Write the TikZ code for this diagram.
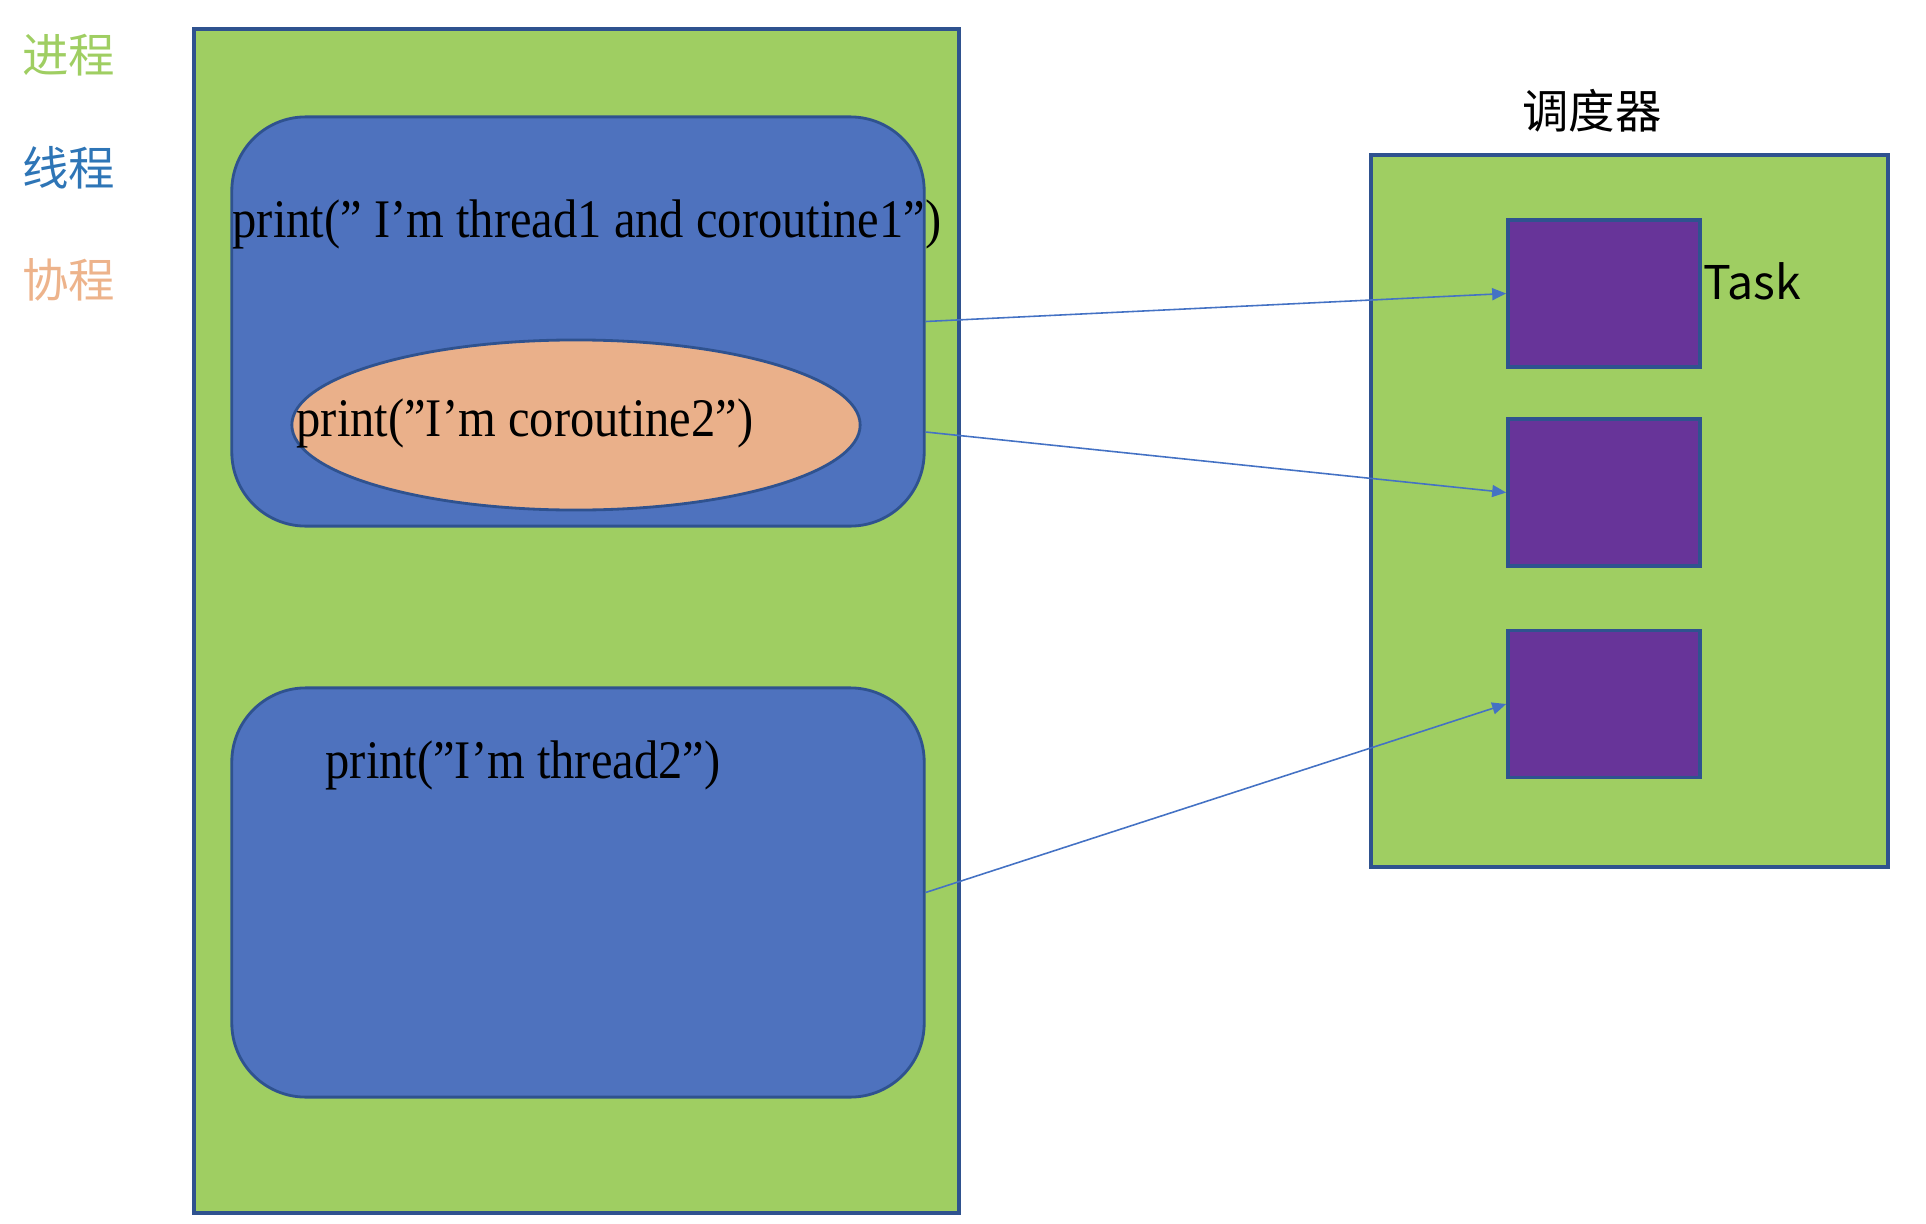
\documentclass[tikz,border=0pt]{standalone}
\usepackage{fontspec}
\setmainfont{Liberation Serif}
\newfontfamily\cjk{Noto Sans CJK SC}
\usepackage{tikz}
\usetikzlibrary{
  positioning, arrows.meta, shapes.geometric
}
\usepackage{xcolor}
\definecolor{procgreen}{HTML}{9FCE62}
\definecolor{threadblue}{HTML}{4E72BE}
\definecolor{coroorange}{HTML}{EAB08A}
\definecolor{taskpurple}{HTML}{673499}
\definecolor{edgeblue}{HTML}{2F528F}
\definecolor{linkblue}{HTML}{4472C4}
\definecolor{legblue}{HTML}{2E75B6}
\definecolor{legorange}{HTML}{EDB38B}
\tikzset{
  procbox/.style={draw=edgeblue, line width=1.1pt, fill=procgreen},
  threadbox/.style={draw=edgeblue, line width=0.8pt, fill=threadblue, rounded corners=0.74cm,
    minimum width=6.92cm, minimum height=4.09cm},
  corobox/.style={ellipse, draw=edgeblue, line width=0.8pt, fill=coroorange,
    minimum width=5.68cm, minimum height=1.70cm},
  taskbox/.style={draw=edgeblue, line width=1pt, fill=taskpurple,
    minimum width=1.92cm, minimum height=1.47cm},
  codetext/.style={font=\fontsize{13.8}{16}\selectfont, inner sep=0pt, yscale=1.12, transform shape},
  cjktext/.style={font=\cjk\fontsize{13.2}{16}\selectfont, inner sep=0pt},
  link/.style={draw=linkblue, line width=0.45pt, -{Triangle[length=0.14cm, width=0.12cm]}}
}

\begin{document}
\begin{tikzpicture}[x=0.01cm, y=-0.01cm]
\useasboundingbox (0,0) rectangle (1926,1224);
\node[cjktext, text=procgreen] (leg1) at (69,55) {进程};
\node[cjktext, text=legblue] (leg2) at (69,168) {线程};
\node[cjktext, text=legorange] (leg3) at (69,280) {协程};
\node[procbox, minimum width=7.65cm, minimum height=11.83cm] (proc) at (576.5,621) {};
\node[threadbox] (thread1) at (578,321.5) {};
\node[codetext] (text1) at (587,224) {print(” I’m thread1 and coroutine1”)};
\node[corobox] (coro) at (576,425) {};
\node[codetext] (text2) at (525,423) {print(”I’m coroutine2”)};
\node[threadbox] (thread2) at (578,892.5) {};
\node[codetext] (text3) at (523,765) {print(”I’m thread2”)};
\node[cjktext] (sched) at (1592,111) {调度器};
\node[procbox, minimum width=5.17cm, minimum height=7.12cm] (schedbox) at (1629.5,511) {};
\node[taskbox] (task1) at (1604,293.5) {};
\node[taskbox] (task2) at (1604,492.5) {};
\node[taskbox] (task3) at (1604,704) {};
\node[cjktext] (tasklabel) at (1752,281) {Task};
\draw[link] (thread1.east) -- (task1.west);
\draw[link] ([yshift=-0.07cm]thread1.east |- coro.center) -- (task2.west);
\draw[link] (thread2.east) -- (task3.west);
\end{tikzpicture}
\end{document}
